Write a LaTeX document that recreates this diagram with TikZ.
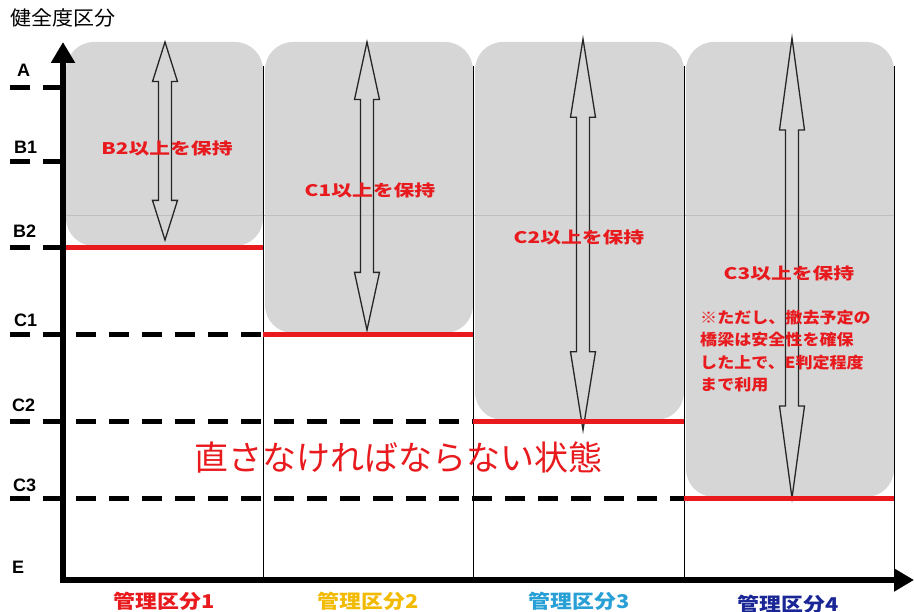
\documentclass[tikz,border=0pt]{standalone}
\usepackage{fontspec}
\setmainfont{Liberation Sans}
\newfontfamily\jpfont{Noto Sans CJK JP}
\usepackage{tikz}
\usetikzlibrary{arrows.meta}
\definecolor{hozonred}{RGB}{232,26,30}
\definecolor{kubuntwo}{RGB}{242,186,0}
\definecolor{kubunthree}{RGB}{40,160,214}
\definecolor{kubunfour}{RGB}{26,38,150}
\definecolor{greyfill}{RGB}{214,214,214}
\tikzset{
  level/.style={font=\bfseries\fontsize{18}{18}\selectfont,inner sep=0pt},
  keep/.style={font=\jpfont\bfseries\fontsize{16}{16}\selectfont,text=hozonred,xscale=1.3,inner sep=0pt},
  note/.style={font=\jpfont\bfseries\fontsize{15.5}{22.5}\selectfont,text=hozonred,align=left,xscale=1.1,inner sep=0pt},
  kubun/.style={font=\jpfont\bfseries\fontsize{19}{19}\selectfont,xscale=1.15,inner sep=0pt},
  dashline/.style={line width=5pt,dash pattern=on 20pt off 13pt},
  redline/.style={line width=5pt,hozonred},
  hollow/.style={line width=1.3pt,black!85,line join=miter},
}
\newcommand\dblarrow[3]{%
  \pgfmathsetmacro\hl{0.2*(#3-#2)}
  \draw[hollow] (#1,#2) -- ++(12.5,\hl) -- ++(-6,0) -- (#1+6.5,#3-\hl) -- ++(6,0)
    -- (#1,#3) -- ++(-12.5,-\hl) -- ++(6,0) -- (#1-6.5,#2+\hl) -- ++(-6,0) -- cycle;
}

\begin{document}
\begin{tikzpicture}[x=1pt,y=-1pt]
\useasboundingbox (0,0) rectangle (914,612);
% shaded columns
\foreach \xl/\xr/\yr in {66/263/248,265/473/335,475/684/422,686/894/499}
  \fill[greyfill,rounded corners=28pt] (\xl,42) rectangle (\xr,\yr-2);
\draw[line width=0.4pt,black!25] (66,215) -- (894,215);
\foreach \xd in {263,473,684,894}
  \draw[line width=0.9pt] (\xd,66) -- (\xd,580);
% double arrows
\dblarrow{165}{42}{240}
\dblarrow{367}{42}{330}
\dblarrow{583}{39}{430}
\dblarrow{792}{38}{498}
% levels
\draw[dashline] (10,88) -- (62,88);
\draw[dashline] (10,162) -- (62,162);
\draw[dashline] (10,248) -- (62,248);
\draw[dashline] (10,335) -- (263,335);
\draw[dashline] (10,422) -- (473,422);
\draw[dashline] (10,499) -- (684,499);
\draw[redline] (62,248) -- (263,248);
\draw[redline] (263,335) -- (473,335);
\draw[redline] (473,422) -- (684,422);
\draw[redline] (684,499) -- (894,499);
% axes
\draw[line width=6pt,{Triangle[length=21pt,width=23pt]}-{Triangle[length=20pt,width=22pt]}]
  (63,42) -- (63,580) -- (914,580);
\node[font=\jpfont\fontsize{20}{20}\selectfont,anchor=west,xscale=1.05,inner sep=0pt] (title) at (10,18) {健全度区分};
\foreach \lab/\lx/\ly in {A/17/70,B1/14/147,B2/13/231,C1/14/320,C2/12/405,C3/13/485,E/12/567}
  \node[level,anchor=west] (lev\lab) at (\lx,\ly) {\lab};
% texts
\node[keep] (keep1) at (167,148) {B2以上を保持};
\node[keep] (keep2) at (370,190) {C1以上を保持};
\node[keep] (keep3) at (579,237) {C2以上を保持};
\node[keep] (keep4) at (789,273) {C3以上を保持};
\node[note,anchor=north west] (note4) at (700,310) {※ただし、撤去予定の\\橋梁は安全性を確保\\した上で、E判定程度\\まで利用};
\node[font=\jpfont\fontsize{34}{34}\selectfont,text=hozonred,inner sep=0pt] (fix) at (398,458) {直さなければならない状態};
\node[kubun,text=hozonred] (kubun1) at (164,601) {管理区分1};
\node[kubun,text=kubuntwo] (kubun2) at (368,601) {管理区分2};
\node[kubun,text=kubunthree] (kubun3) at (579,601) {管理区分3};
\node[kubun,text=kubunfour] (kubun4) at (788,604) {管理区分4};
\end{tikzpicture}
\end{document}
